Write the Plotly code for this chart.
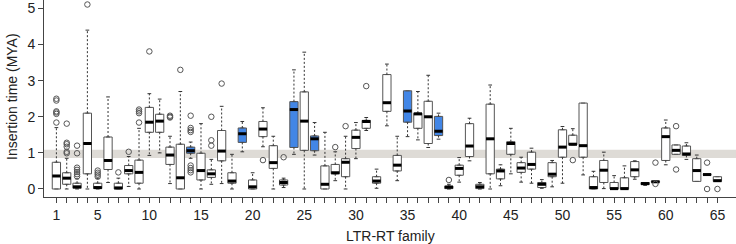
import plotly.graph_objects as go

# ---- data ----
families = list(range(1, 66))
lower = [0, 0, 0, 0, 0, 0.18, 0, 0.07, 0, 0.93,
         1.0, 0.15, 0, 0.85, 0, 0.13, 0.15, 0, 1.03, 0,
         1.17, 0, 0.04, 0.96, 0, 0.94, 0, 0.23, 0, 0.84,
         1.62, 0.02, 1.75, 0.23, 1.45, 1.36, 1.15, 1.38, 0, 0.19,
         0.78, 0, 0, 0.09, 0.42, 0.19, 0.16, 0.02, 0.06, 0.16,
         1.22, 0.39, 0, 0.01, 0, 0, 0.27, 0.1, 0.18, 0.67,
         0.96, 0.82, 0.21, 0.4, 0.21]
q1 = [0, 0.13, 0.02, 0.42, 0.01, 0.54, 0.0, 0.42, 0.16, 1.57,
      1.57, 0.68, 0, 0.99, 0.25, 0.32, 0.78, 0.16, 1.29, 0,
      1.45, 0.57, 0.11, 1.15, 1.07, 1.06, 0, 0.42, 0.34, 1.12,
      1.68, 0.16, 2.15, 0.5, 1.85, 1.68, 1.26, 1.48, 0.01, 0.38,
      0.9, 0.01, 0.42, 0.28, 0.96, 0.46, 0.55, 0.04, 0.34, 0.88,
      1.22, 0.88, 0, 0.18, 0, 0, 0.34, 0.12, 0.19, 0.79,
      0.96, 0.93, 0.21, 0.4, 0.21]
median = [0.36, 0.3, 0.06, 1.26, 0.04, 0.79, 0.03, 0.51, 0.46, 1.85,
          1.88, 0.94, 0.31, 1.06, 0.51, 0.42, 1.05, 0.22, 1.53, 0.06,
          1.66, 0.73, 0.18, 2.2, 1.88, 1.39, 0.13, 0.45, 0.74, 1.43,
          1.87, 0.22, 2.39, 0.66, 2.16, 2.08, 2.0, 1.6, 0.05, 0.57,
          1.19, 0.06, 1.39, 0.5, 1.26, 0.58, 0.68, 0.13, 0.41, 1.16,
          1.24, 1.2, 0.04, 0.52, 0.01, 0.01, 0.53, 0.15, 0.2, 1.45,
          1.07, 0.97, 0.51, 0.4, 0.23]
q3 = [0.74, 0.45, 0.16, 2.1, 0.16, 1.44, 0.16, 0.65, 0.8, 2.26,
      2.07, 1.16, 1.24, 1.16, 0.99, 0.53, 1.62, 0.45, 1.69, 0.25,
      1.87, 1.2, 0.25, 2.42, 2.69, 1.47, 0.64, 0.68, 0.84, 1.63,
      1.9, 0.34, 3.17, 0.93, 2.72, 2.1, 2.43, 2.01, 0.08, 0.66,
      1.81, 0.13, 2.35, 0.55, 1.31, 0.73, 1.02, 0.18, 0.73, 1.64,
      1.49, 2.38, 0.34, 0.79, 0.18, 0.31, 0.76, 0.18, 0.21, 1.69,
      1.22, 1.19, 0.84, 0.4, 0.34]
upper = [1.7, 0.85, 0.28, 4.4, 0.3, 2.55, 0.3, 0.9, 1.68, 2.64,
         2.49, 1.46, 2.7, 1.3, 1.81, 0.82, 2.29, 0.96, 1.87, 0.45,
         2.25, 1.46, 0.3, 3.3, 3.79, 1.84, 1.57, 1.03, 1.46, 1.84,
         1.98, 0.55, 3.46, 1.46, 2.72, 2.7, 3.15, 2.1, 0.13, 0.87,
         1.96, 0.18, 2.88, 0.67, 1.68, 0.88, 1.13, 0.26, 0.79, 1.73,
         1.67, 2.38, 0.49, 1.02, 0.37, 0.64, 0.78, 0.18, 0.21, 1.91,
         1.22, 1.28, 0.94, 0.4, 0.34]
outliers = [
    [1.84, 2.08, 2.12, 2.15, 2.45, 2.5],
    [0.99, 1.03, 1.17, 1.24, 1.28, 1.81],
    [0.35, 0.41, 0.47, 0.53, 0.59, 0.99, 1.2],
    [5.11],
    [0.34, 0.4, 0.45, 0.51],
    [],
    [0.46],
    [1.03],
    [1.84, 2.1, 2.15, 2.2],
    [3.81],
    [],
    [1.98, 2.0, 2.03],
    [3.3],
    [0.46, 0.52, 0.58, 0.65, 1.58, 1.63, 1.69, 2.03],
    [],
    [1.2, 1.35, 2.0],
    [2.92],
    [], [], [],
    [0.8],
    [],
    [0.88],
    [], [], [], [],
    [1.16],
    [1.74],
    [],
    [2.85],
    [], [], [], [], [], [], [],
    [0.25],
    [], [], [], [], [], [], [], [], [], [], [],
    [0.8],
    [], [], [], [], [], [], [],
    [0.14, 0.73],
    [],
    [0.54, 1.74],
    [], [],
    [0.0, 0.73],
    [0.0],
]
blue_families = [14, 19, 24, 26, 35, 38]
tick_labels = {1: "1", 5: "5", 10: "10", 15: "15", 20: "20", 25: "25", 30: "30",
               35: "35", 40: "40", 45: "45", 50: "50", 55: "55", 60: "60", 65: "65"}
band = (0.86, 1.09)

# ---- styling ----
BOX_W = 0.8
CAP_HALF = 0.18
LINE_COL = "#555555"
BLUE = "#4286e6"
FONT = "Liberation Sans, Arial, sans-serif"

fig = go.Figure()

# whiskers (dotted)
wx, wy = [], []
cx, cy = [], []
for f, lo, a, b, hi in zip(families, lower, q1, q3, upper):
    if hi > b:
        wx += [f, f, None]; wy += [b, hi, None]
        cx += [f - CAP_HALF, f + CAP_HALF, None]; cy += [hi, hi, None]
    if lo < a:
        wx += [f, f, None]; wy += [a, lo, None]
        cx += [f - CAP_HALF, f + CAP_HALF, None]; cy += [lo, lo, None]
fig.add_trace(go.Scatter(x=wx, y=wy, mode="lines",
                         line=dict(color="#333333", width=1, dash="2px,2px"),
                         hoverinfo="skip", showlegend=False))
fig.add_trace(go.Scatter(x=cx, y=cy, mode="lines",
                         line=dict(color="#333333", width=1),
                         hoverinfo="skip", showlegend=False))

# boxes
for is_blue, fill in [(False, "white"), (True, BLUE)]:
    idx = [i for i, f in enumerate(families) if (f in blue_families) == is_blue]
    fig.add_trace(go.Box(
        x=[families[i] for i in idx],
        q1=[q1[i] for i in idx],
        median=[median[i] for i in idx],
        q3=[q3[i] for i in idx],
        lowerfence=[q1[i] for i in idx],
        upperfence=[q3[i] for i in idx],
        width=BOX_W, fillcolor=fill,
        line=dict(color=LINE_COL, width=1),
        boxpoints=False, hoverinfo="skip", showlegend=False))

# medians (thick)
mx, my = [], []
for f, m in zip(families, median):
    mx += [f - BOX_W / 2, f + BOX_W / 2, None]; my += [m, m, None]
fig.add_trace(go.Scatter(x=mx, y=my, mode="lines",
                         line=dict(color="black", width=3),
                         hoverinfo="skip", showlegend=False))

# outliers
ox, oy = [], []
for f, outs in zip(families, outliers):
    for v in outs:
        ox.append(f); oy.append(v)
fig.add_trace(go.Scatter(x=ox, y=oy, mode="markers",
                         marker=dict(symbol="circle-open", size=5.5,
                                     color="#555555", line=dict(width=1)),
                         hoverinfo="skip", showlegend=False))

# shaded band
fig.add_shape(type="rect", xref="paper", x0=0, x1=1, yref="y",
              y0=band[0], y1=band[1], fillcolor="#dedbd6",
              line=dict(width=0), layer="below")

fig.update_layout(
    width=736, height=244,
    margin=dict(l=44, r=0, t=0, b=47),
    paper_bgcolor="white", plot_bgcolor="white",
    boxmode="overlay",
    font=dict(family=FONT, size=14, color="#222222"),
    xaxis=dict(range=[-0.2, 66.8], tickmode="array",
               tickvals=families,
               ticktext=[tick_labels.get(f, "") for f in families],
               ticks="outside", ticklen=5, tickcolor="#444444",
               showline=True, linecolor="#444444", linewidth=1,
               showgrid=False, zeroline=False,
               tickfont=dict(size=14)),
    yaxis=dict(range=[-0.222, 5.235], tickvals=[0, 1, 2, 3, 4, 5],
               ticks="outside", ticklen=5, tickcolor="#444444",
               showline=True, linecolor="#444444", linewidth=1,
               showgrid=False, zeroline=False,
               tickfont=dict(size=14)),
    annotations=[
        dict(text="Insertion time (MYA)", xref="paper", yref="paper",
             x=-0.0462, y=0.508, textangle=-90, showarrow=False,
             font=dict(size=14), xanchor="center", yanchor="middle"),
        dict(text="LTR-RT family", xref="paper", yref="paper",
             x=0.5, y=-0.198, showarrow=False,
             font=dict(size=14), xanchor="center", yanchor="middle"),
    ],
)

fig.write_html("out.html",
               config={"displayModeBar": False, "staticPlot": True},
               post_script="document.body.style.margin='0';document.body.style.overflow='hidden';")
